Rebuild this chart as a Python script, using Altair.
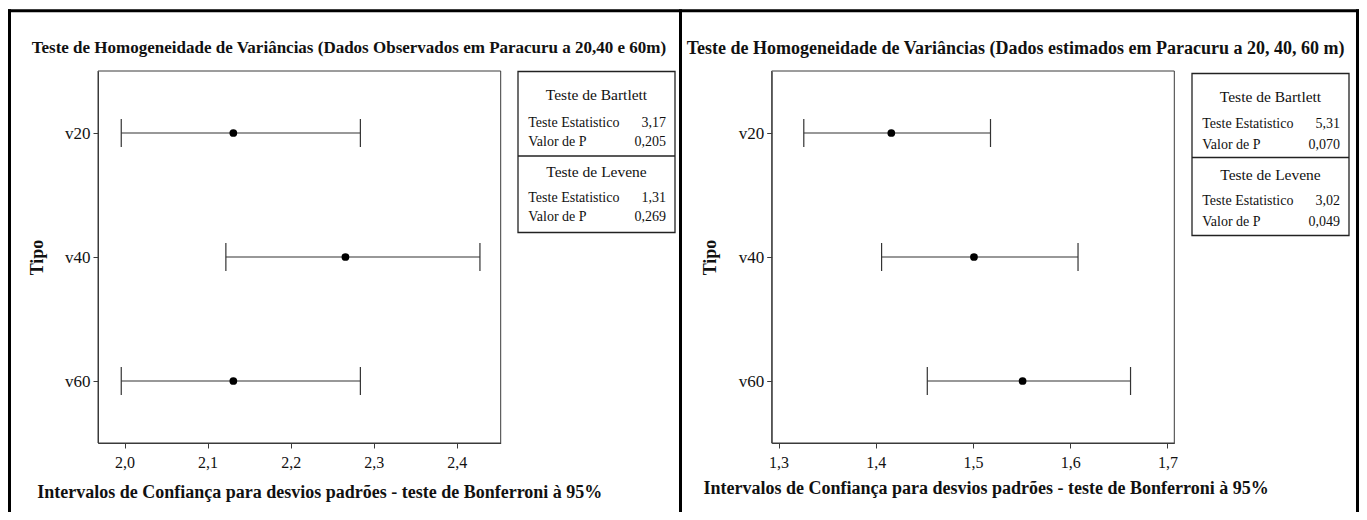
import altair as alt
import pandas as pd

# ---------------- data ----------------
tipos = ["v20", "v40", "v60"]

obs_center = [2.131, 2.266, 2.131]
obs_low = [1.996, 2.122, 1.996]
obs_high = [2.284, 2.428, 2.284]

est_center = [1.416, 1.501, 1.551]
est_low = [1.326, 1.406, 1.453]
est_high = [1.518, 1.608, 1.662]

obs_ticks = [2.0, 2.1, 2.2, 2.3, 2.4]
est_ticks = [1.3, 1.4, 1.5, 1.6, 1.7]
obs_domain = [1.968, 2.453]
est_domain = [1.293, 1.707]

title_obs = "Teste de Homogeneidade de Variâncias (Dados Observados em Paracuru a 20,40 e 60m)"
title_est = "Teste de Homogeneidade de Variâncias (Dados estimados em Paracuru a 20, 40, 60 m)"
x_title = "Intervalos de Confiança para desvios padrões - teste de Bonferroni à 95%"
y_title = "Tipo"

table_headers = ["Teste de Bartlett", "Teste de Levene"]
row_labels = ["Teste Estatistico", "Valor de P"]
obs_bartlett = ["3,17", "0,205"]
obs_levene = ["1,31", "0,269"]
est_bartlett = ["5,31", "0,070"]
est_levene = ["3,02", "0,049"]

# ---------------- layout ----------------
FONT = "Liberation Serif"
W, H = 1076, 372
PAD = {"left": 90, "top": 63, "right": 185, "bottom": 69}
FRAME = "#3a3a3a"
one = pd.DataFrame({"k": [0]})

label_expr = "replace(format(datum.value, '.1f'), '.', ',')"


def panel(center, low, high, ticks, domain, rng, y_offset, xt_x, xt_y):
    df = pd.DataFrame({"tipo": tipos, "center": center, "low": low, "high": high})
    xscale = alt.Scale(domain=domain, range=rng, nice=False, zero=False)
    xaxis = alt.Axis(
        orient="bottom", values=ticks, labelExpr=label_expr, grid=False,
        title=x_title, titleX=xt_x, titleY=xt_y, titleAlign="left",
        titleBaseline="alphabetic", titleFont=FONT, titleFontSize=18,
        titleFontWeight="bold", titleColor="#111",
        labelFont=FONT, labelFontSize=16, labelColor="#111", labelPadding=6,
        tickSize=5, tickColor=FRAME, domainColor=FRAME,
    )
    yscale = alt.Scale(type="point", domain=tipos, padding=0.5)
    yaxis = alt.Axis(
        orient="left", offset=y_offset, grid=False,
        title=y_title, titleX=-61, titleY=186, titleAngle=270,
        titleAlign="center", titleBaseline="middle", titleFont=FONT,
        titleFontSize=18, titleFontWeight="bold", titleColor="#111",
        labelFont=FONT, labelFontSize=17, labelColor="#111", labelPadding=3,
        tickSize=5, tickColor=FRAME, domainColor=FRAME,
    )
    y = alt.Y("tipo:N", scale=yscale, axis=yaxis, sort=tipos)
    base = alt.Chart(df)
    line = base.mark_rule(color="#333", strokeWidth=1.2).encode(
        x=alt.X("low:Q", scale=xscale, axis=xaxis), x2="high:Q", y=y
    )
    cap_lo = base.mark_tick(color="#333", size=28, thickness=1.2, opacity=1).encode(
        x=alt.X("low:Q", scale=xscale, axis=xaxis), y=y
    )
    cap_hi = base.mark_tick(color="#333", size=28, thickness=1.2, opacity=1).encode(
        x=alt.X("high:Q", scale=xscale, axis=xaxis), y=y
    )
    pts = base.mark_circle(color="black", size=60, opacity=1).encode(
        x=alt.X("center:Q", scale=xscale, axis=xaxis), y=y
    )
    return alt.layer(line, cap_lo, cap_hi, pts)


left = panel(obs_center, obs_low, obs_high, obs_ticks, obs_domain,
             [0, 402.7], 0, -61.3, 54)
right = panel(est_center, est_low, est_high, est_ticks, est_domain,
              [673.7, 1076.3], -673.7, 605, 50)

deco = []


def rect(x, x2, y, y2, color, sw):
    return alt.Chart(one).mark_rect(fill="transparent", stroke=color, strokeWidth=sw).encode(
        x=alt.value(x), x2=alt.value(x2), y=alt.value(y), y2=alt.value(y2)
    )


def hline(x, x2, y, color, sw):
    return alt.Chart(one).mark_rule(color=color, strokeWidth=sw).encode(
        x=alt.value(x), x2=alt.value(x2), y=alt.value(y)
    )


def vline(x, y, y2, color, sw):
    return alt.Chart(one).mark_rule(color=color, strokeWidth=sw).encode(
        x=alt.value(x), y=alt.value(y), y2=alt.value(y2)
    )


def text(s, x, y, size, align="left", weight="normal", baseline="middle"):
    return alt.Chart(one).mark_text(
        align=align, baseline=baseline, font=FONT, fontSize=size,
        fontWeight=weight, color="#111"
    ).encode(x=alt.value(x), y=alt.value(y), text=alt.value(s))


# plot frames
deco.append(rect(0, 402.7, 0, H, FRAME, 1))
deco.append(rect(673.7, 1076.3, 0, H, FRAME, 1))

# outer borders
deco.append(hline(-90, 1261, -60.3, "black", 3))
deco.append(vline(-88.5, -61.8, 441, "black", 3))
deco.append(vline(582.5, -61.8, 441, "black", 3))
deco.append(vline(1259.5, -61.8, 441, "black", 3))

# panel titles
deco.append(text(title_obs, -66.3, -17.7, 17, weight="bold", baseline="alphabetic"))
deco.append(text(title_est, 588.7, -16.7, 18, weight="bold", baseline="alphabetic"))


def table(x0, x1, top, bottom, ys, bart, lev):
    out = [rect(x0, x1, top, bottom, "#222", 1.3), hline(x0, x1, ys[3], "#222", 1.3)]
    cx = (x0 + x1) / 2
    out.append(text(table_headers[0], cx, ys[0], 15.5, align="center"))
    out.append(text(table_headers[1], cx, ys[4], 15.5, align="center"))
    rows = [(ys[1], 0, bart), (ys[2], 1, bart), (ys[5], 0, lev), (ys[6], 1, lev)]
    for yy, i, vals in rows:
        out.append(text(row_labels[i], x0 + 10.3, yy, 14))
        out.append(text(vals[i], x1 - 9, yy, 14, align="right"))
    return out


deco += table(420, 577, 0.5, 161.5, [24, 52, 71, 85, 101, 127, 146], obs_bartlett, obs_levene)
deco += table(1094, 1251, 2.5, 164.5, [26, 52.5, 73.5, 86.5, 103.5, 130, 151], est_bartlett, est_levene)

chart = (
    alt.layer(left, right, *deco)
    .resolve_scale(x="independent")
    .resolve_axis(x="independent", y="independent")
    .properties(width=W, height=H, padding=PAD,
                autosize=alt.AutoSizeParams(type="none"), background="white")
    .configure(font=FONT)
    .configure_view(stroke="transparent", strokeWidth=0)
)

chart.save("out.html", embed_options={"renderer": "svg", "actions": False})
